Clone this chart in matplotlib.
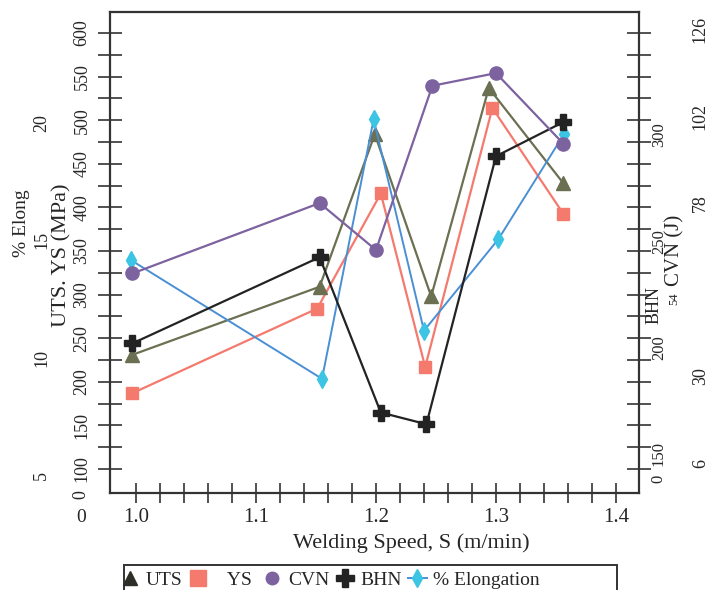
import matplotlib
matplotlib.use('Agg')
import matplotlib.pyplot as plt
from matplotlib.lines import Line2D
from matplotlib.patches import Rectangle

# --- data ---
UTS_SPEED = [0.997, 1.153, 1.199, 1.246, 1.294, 1.356]
UTS_MPA = [231, 309, 484, 298, 537, 428]
YS_SPEED = [0.997, 1.151, 1.204, 1.241, 1.297, 1.356]
YS_MPA = [187, 284, 416, 217, 514, 393]
CVN_SPEED = [0.997, 1.153, 1.200, 1.247, 1.300, 1.356]
CVN_J = [58.5, 78, 65, 110.5, 114, 94.5]
BHN_SPEED = [0.997, 1.153, 1.204, 1.242, 1.300, 1.356]
BHN_VAL = [202, 242.5, 169.5, 164, 290, 306]
ELONG_SPEED = [0.996, 1.155, 1.198, 1.240, 1.302, 1.357]
ELONG_PCT = [14.15, 9.1, 20.15, 11.15, 15.05, 19.55]

X_TICKS = [1.0, 1.1, 1.2, 1.3, 1.4]
X_MINOR = [1.0 + 0.02 * i for i in range(21)]
MPA_TICKS = [100, 150, 200, 250, 300, 350, 400, 450, 500, 550, 600]
MPA_MINOR = [125, 175, 225, 275, 325, 375, 425, 475, 525, 575]
ELONG_TICKS = [5, 10, 15, 20]
BHN_TICKS = [150, 200, 250, 300]
CVN_TICKS = [6, 30, 78, 102, 126]

COLORS = {
    'uts': '#6b7052',
    'ys': '#f47a6e',
    'cvn': '#7d62a0',
    'bhn': '#232323',
    'elong_m': '#3cc4e4',
    'elong_l': '#4a8fd4',
}
TXT = '#262626'

plt.rcParams['font.family'] = ['Liberation Serif', 'DejaVu Serif']
plt.rcParams['text.color'] = TXT
plt.rcParams['xtick.color'] = '#333333'
plt.rcParams['ytick.color'] = '#333333'
plt.rcParams['xtick.labelcolor'] = TXT
plt.rcParams['ytick.labelcolor'] = TXT

W, H = 718, 590
fig = plt.figure(figsize=(W / 100, H / 100), dpi=100)
ax = fig.add_axes([110 / W, 1 - 493 / H, 529 / W, 481 / H])
ax_el = ax.twinx()
ax_bhn = ax.twinx()
ax_cvn = ax.twinx()

ax.set_xlim(0.9783, 1.4192)
ax.set_ylim(72.5, 624.1)
ax_el.set_ylim(4.233, 24.73)
ax_bhn.set_ylim(131.66, 357.8)
ax_cvn.set_ylim(-2.31, 130.93)

# series
ax.plot(UTS_SPEED, UTS_MPA, color=COLORS['uts'], lw=1.6, marker='^', ms=10, zorder=3)
ax.plot(YS_SPEED, YS_MPA, color=COLORS['ys'], lw=1.6, marker='s', ms=8.5, zorder=2)
ax_cvn.plot(CVN_SPEED, CVN_J, color=COLORS['cvn'], lw=1.6, marker='o', ms=9.5)
ax_bhn.plot(BHN_SPEED, BHN_VAL, color=COLORS['bhn'], lw=1.6, marker='P', ms=11)
ax_el.plot(ELONG_SPEED, ELONG_PCT, color=COLORS['elong_l'], lw=1.4, marker='d',
           ms=9, mfc=COLORS['elong_m'], mec=COLORS['elong_m'])
for a in (ax_el, ax_bhn, ax_cvn):
    a.set_zorder(ax.get_zorder() + 1)

# frame
for s in ax.spines.values():
    s.set_linewidth(1.6)
    s.set_color('#333333')
for a in (ax_el, ax_bhn, ax_cvn):
    for s in a.spines.values():
        s.set_visible(False)

ax.set_xticks(X_TICKS)
ax.set_xticks(X_MINOR, minor=True)
ax.set_xticklabels([f'{v:.1f}' for v in X_TICKS])
ax.tick_params(axis='x', which='both', direction='inout', length=15, width=1.2,
               pad=3, labelsize=15)

ax.set_yticks(MPA_TICKS)
ax.set_yticks(MPA_MINOR, minor=True)
ax.tick_params(axis='y', which='both', direction='inout', length=17, width=1.2,
               left=True, right=True, labelleft=True, labelright=False,
               labelsize=13, pad=5.5)

ax_el.yaxis.tick_left()
ax_el.set_yticks(ELONG_TICKS)
ax_el.tick_params(axis='y', length=0, pad=43, labelsize=13)

ax_bhn.set_yticks(BHN_TICKS)
ax_bhn.tick_params(axis='y', length=0, pad=8.5, labelsize=12)

ax_cvn.set_yticks(CVN_TICKS)
ax_cvn.tick_params(axis='y', length=0, pad=38, labelsize=13)

for a in (ax, ax_el, ax_bhn, ax_cvn):
    plt.setp(a.get_yticklabels(), rotation=90, va='center')

# extra "0" labels and the displaced 54 on the CVN scale
ax.text(-0.055, 71.0, '0', transform=ax.get_yaxis_transform(), rotation=90,
        ha='center', va='center', fontsize=13)
ax_bhn.text(1.036, 138.5, '0', transform=ax_bhn.get_yaxis_transform(), rotation=90,
            ha='center', va='center', fontsize=12)
ax_cvn.text(1.067, 51.5, '54', transform=ax_cvn.get_yaxis_transform(), rotation=90,
            ha='center', va='center', fontsize=9)
fig.text(81 / W, 1 - 518 / H, '0', ha='center', va='center', fontsize=14)

# axis titles
fig.text(22 / W, 1 - 223 / H, '% Elong', rotation=90, ha='center', va='center', fontsize=14)
fig.text(62 / W, 1 - 255 / H, 'UTS. YS (MPa)', rotation=90, ha='center', va='center', fontsize=16)
fig.text(654 / W, 1 - 305 / H, 'BHN', rotation=90, ha='center', va='center', fontsize=13)
fig.text(675 / W, 1 - 250 / H, 'CVN (J)', rotation=90, ha='center', va='center', fontsize=15)
fig.text(411 / W, 1 - 543 / H, 'Welding Speed, S (m/min)', ha='center', va='center', fontsize=16)

# legend box (bottom cut off by the page edge)
fig.patches.append(Rectangle((124 / W, -0.05), (617 - 124) / W, 0.05 + (1 - 565 / H),
                             transform=fig.transFigure, fill=False, ec='#333333', lw=1.4))
handles = [
    Line2D([], [], ls='none', marker='^', ms=10, color='#2e2e28'),
    Line2D([], [], ls='none', marker='s', ms=12, color=COLORS['ys']),
    Line2D([], [], ls='none', marker='o', ms=9, color=COLORS['cvn']),
    Line2D([], [], ls='none', marker='P', ms=13, color=COLORS['bhn']),
    Line2D([], [], color=COLORS['elong_l'], lw=1.4, marker='d', ms=9,
           mfc=COLORS['elong_m'], mec=COLORS['elong_m']),
]
labels = ['UTS', '   YS ', 'CVN', 'BHN', '% Elongation']
fig.legend(handles, labels, loc='upper left', bbox_to_anchor=(120 / W, 1 - 571 / H),
           ncol=5, frameon=False, fontsize=14, handlelength=1.0, handletextpad=0.3,
           columnspacing=0.3, borderpad=0.0, borderaxespad=0)

fig.savefig('out.png', dpi=100)
